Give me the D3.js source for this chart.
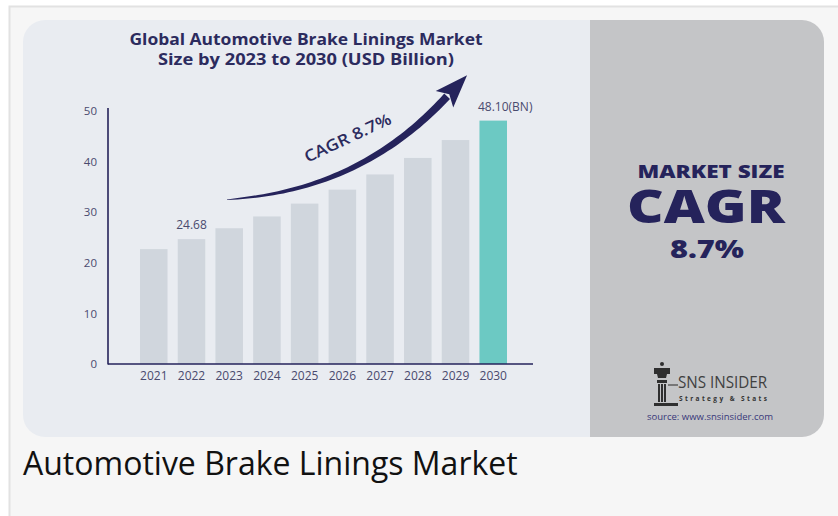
<!DOCTYPE html>
<html>
<head>
<meta charset="utf-8">
<script src="https://cdn.jsdelivr.net/npm/d3@7"></script>
<style>
  body { margin: 0; background: #ffffff; }
  svg { display: block; }
  text { font-family: "Open Sans", sans-serif; }
</style>
</head>
<body>
<svg id="chart" width="838" height="516"></svg>
<script>
// data
const years = ["2021", "2022", "2023", "2024", "2025", "2026", "2027", "2028", "2029", "2030"];
const marketSize = [22.70, 24.68, 26.83, 29.16, 31.70, 34.46, 37.46, 40.72, 44.26, 48.10];
const yTicks = [0, 10, 20, 30, 40, 50];
const titleLines = ["Global Automotive Brake Linings Market", "Size by 2023 to 2030 (USD Billion)"];
const valueLabels = { "2022": "24.68", "2030": "48.10(BN)" };
const cagr = "8.7%";

const navy = "#25235b";
const svg = d3.select("#chart");

// page frame
svg.append("rect").attr("x", 9.5).attr("y", 6.5).attr("width", 840).attr("height", 520)
  .attr("fill", "#f6f6f6").attr("stroke", "#e2e2e2").attr("stroke-width", 2);

// infographic card, rounded
svg.append("clipPath").attr("id", "card")
  .append("rect").attr("x", 23).attr("y", 20).attr("width", 801).attr("height", 417).attr("rx", 22);

const card = svg.append("g").attr("clip-path", "url(#card)");
card.append("rect").attr("x", 23).attr("y", 20).attr("width", 567).attr("height", 417).attr("fill", "#e9ecf1");
card.append("rect").attr("x", 590).attr("y", 20).attr("width", 234).attr("height", 417).attr("fill", "#c4c5c7");

// title
const titleWidths = [353, 296];
svg.append("text").attr("x", 306).attr("y", 45).attr("text-anchor", "middle")
  .attr("font-size", 16).attr("font-weight", 700).attr("fill", "#2c2b5e")
  .selectAll("tspan").data(titleLines).join("tspan")
  .attr("x", 306).attr("dy", (d, i) => i ? 20 : 0)
  .attr("textLength", (d, i) => titleWidths[i]).attr("lengthAdjust", "spacingAndGlyphs")
  .text(d => d);

// scales
const x = d3.scaleBand().domain(years).range([140, 507]).paddingInner(0.27).paddingOuter(0);
const y = d3.scaleLinear().domain([0, 50]).range([364, 111]);

// bars
svg.append("g").selectAll("rect").data(years).join("rect")
  .attr("x", d => x(d))
  .attr("y", (d, i) => y(marketSize[i]))
  .attr("width", x.bandwidth())
  .attr("height", (d, i) => y(0) - y(marketSize[i]))
  .attr("fill", (d, i) => i === years.length - 1 ? "#6cc9c3" : "#d0d6dd");

// y axis
const yAxis = svg.append("g").attr("transform", "translate(108,0)")
  .call(d3.axisLeft(y).tickValues(yTicks).tickSize(0).tickPadding(11));
yAxis.select(".domain").remove();
yAxis.selectAll("text").attr("font-family", "Open Sans").attr("font-size", 11.5).attr("fill", "#4a4a6e");
svg.append("line").attr("x1", 108).attr("x2", 108).attr("y1", 108).attr("y2", 364.5)
  .attr("stroke", navy).attr("stroke-width", 1.6);

// x axis
const xAxis = svg.append("g").attr("transform", "translate(0,364)")
  .call(d3.axisBottom(x).tickSize(0).tickPadding(7));
xAxis.select(".domain").remove();
xAxis.selectAll("text").attr("font-family", "Open Sans").attr("font-size", 12).attr("fill", "#4a4a6e");
svg.append("line").attr("x1", 108).attr("x2", 533).attr("y1", 364).attr("y2", 364)
  .attr("stroke", navy).attr("stroke-width", 1.6);

// value labels
svg.append("g").selectAll("text").data(Object.keys(valueLabels)).join("text")
  .attr("x", d => x(d) + x.bandwidth() / 2 + (d === "2030" ? 12 : 0))
  .attr("y", d => y(marketSize[years.indexOf(d)]) - 10)
  .attr("text-anchor", "middle").attr("font-size", 12).attr("fill", "#4a4a6e")
  .text(d => valueLabels[d]);

// CAGR swoosh arrow
const p0 = [227, 200], q = [360, 195], p2 = [450, 99];
const bez = t => [
  (1 - t) * (1 - t) * p0[0] + 2 * t * (1 - t) * q[0] + t * t * p2[0],
  (1 - t) * (1 - t) * p0[1] + 2 * t * (1 - t) * q[1] + t * t * p2[1]
];
const tan = t => {
  const dx = 2 * (1 - t) * (q[0] - p0[0]) + 2 * t * (p2[0] - q[0]);
  const dy = 2 * (1 - t) * (q[1] - p0[1]) + 2 * t * (p2[1] - q[1]);
  const l = Math.hypot(dx, dy);
  return [dx / l, dy / l];
};
const ts = d3.range(0, 1.0001, 0.02);
const upper = ts.map(t => { const p = bez(t), d = tan(t), w = 0.4 + 7.5 * Math.pow(t, 0.6); return [p[0] + d[1] * w, p[1] - d[0] * w]; });
const lower = ts.map(t => bez(t)).reverse();
svg.append("path").attr("d", d3.line()(upper.concat(lower)) + "Z").attr("fill", navy);

const dEnd = tan(1), nEnd = [dEnd[1], -dEnd[0]];
const base = [p2[0] + nEnd[0] * 3.8, p2[1] + nEnd[1] * 3.8];
const head = [
  [base[0] + dEnd[0] * 29, base[1] + dEnd[1] * 29],
  [base[0] + nEnd[0] * 12 - dEnd[0] * 4, base[1] + nEnd[1] * 12 - dEnd[1] * 4],
  [base[0] + dEnd[0] * 3, base[1] + dEnd[1] * 3],
  [base[0] - nEnd[0] * 12 - dEnd[0] * 4, base[1] - nEnd[1] * 12 - dEnd[1] * 4]
];
svg.append("path").attr("d", d3.line()(head) + "Z").attr("fill", navy);

svg.append("text").attr("transform", "translate(350,143) rotate(-25)")
  .attr("text-anchor", "middle").attr("font-size", 16).attr("font-weight", 600)
  .attr("fill", "#2c2b5e").attr("textLength", 94).attr("lengthAdjust", "spacingAndGlyphs")
  .text("CAGR  " + cagr);

// right panel
const right = svg.append("g").attr("fill", navy).attr("text-anchor", "middle").attr("font-weight", 800);
right.append("text").attr("x", 711).attr("y", 178).attr("font-size", 17)
  .attr("textLength", 147).attr("lengthAdjust", "spacingAndGlyphs").text("MARKET SIZE");
right.append("text").attr("x", 706).attr("y", 223).attr("font-size", 46)
  .attr("textLength", 158).attr("lengthAdjust", "spacingAndGlyphs").text("CAGR");
right.append("text").attr("x", 707).attr("y", 258).attr("font-size", 25)
  .attr("textLength", 74).attr("lengthAdjust", "spacingAndGlyphs").text(cagr);

// logo
const logo = svg.append("g").attr("fill", "#2f2f2f");
logo.append("circle").attr("cx", 662).attr("cy", 364).attr("r", 2);
logo.append("path").attr("d", "M654,368 h16 v6 h-3 l-1,4 h-8 l-1,-4 h-3 Z");
logo.append("path").attr("d", "M657,380 h10 v3 h-10 Z M658,384 h2 v18 h-2 Z M661,384 h2 v18 h-2 Z M664,384 h2 v18 h-2 Z M654,403 h24 v3 h-24 Z");
logo.append("rect").attr("x", 668).attr("y", 384).attr("width", 10).attr("height", 2).attr("fill", "#777");
logo.append("text").attr("x", 678).attr("y", 388).attr("font-size", 16)
  .attr("font-family", "Roboto").attr("fill", "#404040")
  .attr("textLength", 89).attr("lengthAdjust", "spacingAndGlyphs").text("SNS INSIDER");
logo.append("text").attr("x", 679).attr("y", 401).attr("font-size", 6.5).attr("font-weight", 700)
  .attr("font-family", "DejaVu Sans Mono").attr("fill", "#333")
  .attr("textLength", 88).text("Strategy & Stats");
svg.append("text").attr("x", 710).attr("y", 420).attr("text-anchor", "middle")
  .attr("font-family", "Liberation Serif").attr("font-size", 9.5).attr("fill", "#38387a")
  .text("source: www.snsinsider.com");

// caption
svg.append("text").attr("x", 23).attr("y", 475).attr("font-size", 32).attr("fill", "#111")
  .text("Automotive Brake Linings Market");
</script>
</body>
</html>
